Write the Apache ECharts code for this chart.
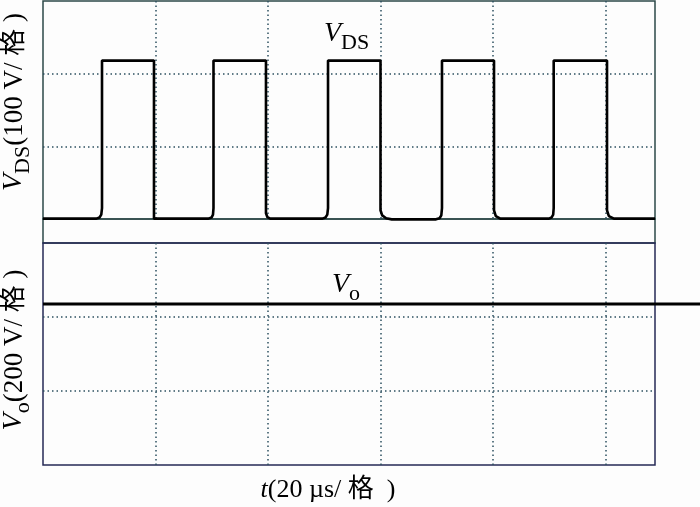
<!DOCTYPE html>
<html><head><meta charset="utf-8">
<script src="https://cdn.jsdelivr.net/npm/echarts@6/dist/echarts.min.js"></script>
<style>html,body{margin:0;padding:0;background:#fff}#c{width:700px;height:507px}</style>
</head><body><div id="c"></div>
<script>
// time axis in µs (20 µs per division)
const timeRange = [0, 108.8];
const timeInterval = 20;
// the Vo trace runs on past the screen frame, to this time
const voTraceEnd = 116.8;
// VDS panel: 100 V per division
const vdsRange = [0, 300];
const vdsInterval = 100;
// Vo panel: 200 V per division
const voRange = [0, 600];
const voInterval = 200;

// VDS waveform [t (µs), V]
const vdsWave = [
  [0, 0.5], [9.51, 0.5], [10.04, 2], [10.36, 6], [10.49, 15], [10.49, 218],
  [19.73, 218], [19.73, 0.5],
  [29.42, 0.5], [29.96, 2], [30.22, 6], [30.31, 15], [30.31, 218],
  [39.64, 218], [39.64, 8], [39.9, 2.5], [40.4, 0.5],
  [49.69, 0.5], [50.22, 2], [50.54, 6], [50.67, 15], [50.67, 218],
  [60.0, 218], [60.0, 12], [60.3, 5], [61.0, 1], [62.0, -0.5],
  [69.87, -0.5], [70.49, 1], [70.81, 5], [70.93, 15], [70.93, 218],
  [80.18, 218], [80.18, 12], [80.5, 4], [81.3, 0.5],
  [89.95, 0.5], [90.4, 2], [90.7, 6], [90.79, 15], [90.79, 218],
  [100.27, 218], [100.27, 12], [100.6, 4], [101.5, 0.5],
  [108.8, 0.5]
];
// Vo waveform [t (µs), V]
const voWave = [[0, 435], [116.8, 435]];

const serif = '"Liberation Serif", "Times New Roman", "Noto Sans CJK SC", serif';
const borderColor = '#2c4848';
const gridDot = '#2d5060';

const chart = echarts.init(document.getElementById('c'), null, {renderer: 'canvas'});

function xAx(gi, show, max) {
  return {
    type: 'value', gridIndex: gi, min: timeRange[0], max: max, interval: timeInterval,
    axisLine: {show: false}, axisTick: {show: false}, axisLabel: {show: false},
    splitLine: {show: show, showMinLine: false, showMaxLine: false,
      lineStyle: {color: gridDot, width: 1.5, type: [1.5, 3]}}
  };
}
function yAx(gi, range, interval, show) {
  return {
    type: 'value', gridIndex: gi, min: range[0], max: range[1], interval: interval,
    axisLine: {show: false}, axisTick: {show: false}, axisLabel: {show: false},
    splitLine: {show: show, showMinLine: false, showMaxLine: false,
      lineStyle: {color: gridDot, width: 1.5, type: [1.5, 3]}}
  };
}

const richTitle = {
  v: {fontFamily: serif, fontStyle: 'italic', fontSize: 28, color: '#111', verticalAlign: 'bottom', padding: [0, 0, 7, 0]},
  s: {fontFamily: serif, fontSize: 22, color: '#111', verticalAlign: 'bottom'},
  n: {fontFamily: serif, fontSize: 27, color: '#111', verticalAlign: 'bottom', padding: [0, 0, 6, 0]}
};
const richLabel = {
  v: {fontFamily: serif, fontStyle: 'italic', fontSize: 28, color: '#111', verticalAlign: 'bottom', padding: [0, 0, 6, 0]},
  s: {fontFamily: serif, fontSize: 22, color: '#111', verticalAlign: 'bottom'}
};

chart.setOption({
  animation: false,
  backgroundColor: '#fdfdfd',
  grid: [
    {left: 43, right: 45, top: 1, height: 218, show: true, borderColor: borderColor, borderWidth: 1.5},
    {left: 43, right: 45, top: 219, height: 24, show: true, borderColor: borderColor, borderWidth: 1.5},
    {left: 43, right: 45, top: 243, height: 222, show: true, borderColor: '#262a55', borderWidth: 1.5},
    {left: 43, right: 0, top: 243, height: 222, show: false}
  ],
  xAxis: [xAx(0, true, timeRange[1]), xAx(1, false, timeRange[1]), xAx(2, true, timeRange[1]),
          xAx(3, false, voTraceEnd)],
  yAxis: [yAx(0, vdsRange, vdsInterval, true), yAx(1, [0, 1], 1, false),
          yAx(2, voRange, voInterval, true), yAx(3, voRange, voInterval, false)],
  series: [
    {type: 'line', name: 'VDS', xAxisIndex: 0, yAxisIndex: 0, data: vdsWave, symbol: 'none',
     clip: false, lineStyle: {color: '#000', width: 2.6}},
    {type: 'line', name: 'Vo', xAxisIndex: 3, yAxisIndex: 3, data: voWave, symbol: 'none',
     clip: false, lineStyle: {color: '#000', width: 3}}
  ],
  graphic: [
    {type: 'text', x: 324, y: 20, style: {text: '{v|V}{s|DS}', rich: richLabel}},
    {type: 'text', x: 332, y: 271, style: {text: '{v|V}{s|o}', rich: richLabel}},
    {type: 'text', x: 17, y: 102, rotation: Math.PI / 2,
     style: {text: '{v|V}{s|DS}{n|(100 V/ 格 )}', rich: richTitle, align: 'center', verticalAlign: 'middle'}},
    {type: 'text', x: 17, y: 350, rotation: Math.PI / 2,
     style: {text: '{v|V}{s|o}{n|(200 V/ 格 )}', rich: richTitle, align: 'center', verticalAlign: 'middle'}},
    {type: 'text', x: 328, y: 490,
     style: {text: '{t|t}{n|(20 µs/ 格  )}', align: 'center', verticalAlign: 'middle',
       rich: {t: {fontFamily: serif, fontStyle: 'italic', fontSize: 26, color: '#111'},
              n: {fontFamily: serif, fontSize: 26, color: '#111'}}}}
  ]
});
</script></body></html>
